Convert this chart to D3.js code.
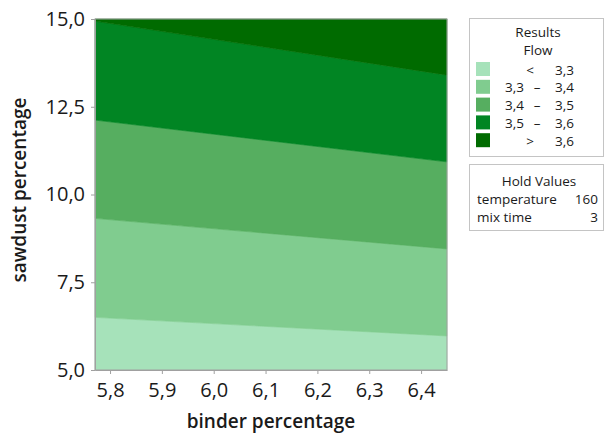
<!DOCTYPE html>
<html>
<head>
<meta charset="utf-8">
<script src="https://cdn.jsdelivr.net/npm/d3@7"></script>
<style>
  html, body { margin: 0; padding: 0; background: #fff; }
  svg { display: block; font-family: "Open Sans", "Noto Sans", sans-serif; }
</style>
</head>
<body>
<svg id="chart" width="605" height="434"></svg>
<script>
// Contour plot of Flow vs binder and sawdust percentage (temperature 160, mix time 3)

const binderRange = [5.771, 6.45];
const sawdustRange = [5, 15];

// Flow contour levels and the sawdust value where each contour meets the left / right edge
const flowLevels = [3.3, 3.4, 3.5, 3.6];
const sawdustAtBinderMin = [6.50, 9.32, 12.12, 14.94];
const sawdustAtBinderMax = [5.97, 8.45, 10.93, 13.40];

const bandLabels = [["", "<", "3,3"], ["3,3", "–", "3,4"], ["3,4", "–", "3,5"], ["3,5", "–", "3,6"], ["", ">", "3,6"]];
const bandColors = ["#a6e2ba", "#80cc8f", "#56ae60", "#018523", "#006b00"];

const xTicks = [5.8, 5.9, 6.0, 6.1, 6.2, 6.3, 6.4];
const yTicks = [5, 7.5, 10, 12.5, 15];

const holdNames = ["temperature", "mix time"];
const holdValues = [160, 3];

const svg = d3.select("#chart");
const plotLeft = 95, plotRight = 447, plotTop = 19, plotBottom = 370;

const x = d3.scaleLinear().domain(binderRange).range([plotLeft, plotRight]);
const y = d3.scaleLinear().domain(sawdustRange).range([plotBottom, plotTop]);

const loc = d3.formatLocale({ decimal: ",", thousands: ".", grouping: [3], currency: ["", ""] });
const fmt = loc.format(".1f");

// Band boundaries: bottom edge, each contour line, top edge
const edgesL = [sawdustRange[0], ...sawdustAtBinderMin, sawdustRange[1]];
const edgesR = [sawdustRange[0], ...sawdustAtBinderMax, sawdustRange[1]];

const bands = bandColors.map((c, i) => ({
  color: c,
  pts: [
    [binderRange[0], edgesL[i]],
    [binderRange[1], edgesR[i]],
    [binderRange[1], edgesR[i + 1]],
    [binderRange[0], edgesL[i + 1]]
  ]
}));

const poly = d3.line().x(d => x(d[0])).y(d => y(d[1]));

svg.append("g").selectAll("path").data(bands).join("path")
  .attr("d", d => poly(d.pts) + "Z")
  .attr("fill", d => d.color)
  .attr("stroke", d => d.color)
  .attr("stroke-width", 0.6);

// frame
svg.append("rect")
  .attr("x", plotLeft).attr("y", plotTop)
  .attr("width", plotRight - plotLeft).attr("height", plotBottom - plotTop)
  .attr("fill", "none").attr("stroke", "#a0a0a0").attr("stroke-width", 1);

// axes
const xAxis = svg.append("g").attr("transform", `translate(0,${plotBottom})`)
  .call(d3.axisBottom(x).tickValues(xTicks).tickFormat(fmt).tickSize(4).tickSizeOuter(0));
const yAxis = svg.append("g").attr("transform", `translate(${plotLeft},0)`)
  .call(d3.axisLeft(y).tickValues(yTicks).tickFormat(fmt).tickSize(4).tickSizeOuter(0));

[xAxis, yAxis].forEach(a => {
  a.select(".domain").attr("stroke", "#a0a0a0");
  a.selectAll(".tick line").attr("stroke", "#a0a0a0");
  a.selectAll(".tick text").attr("fill", "#1a1a1a").style("font-size", "20px")
    .style("font-family", "'Open Sans', sans-serif");
});
xAxis.selectAll(".tick text").attr("dy", "1.0em");
yAxis.selectAll(".tick text").attr("x", -10);

// axis titles
svg.append("text")
  .attr("x", 271).attr("y", 428)
  .attr("text-anchor", "middle")
  .attr("fill", "#1a1a1a")
  .style("font-size", "19px").style("font-weight", 600)
  .text("binder percentage");

svg.append("text")
  .attr("transform", "translate(26,190) rotate(-90)")
  .attr("text-anchor", "middle")
  .attr("fill", "#1a1a1a")
  .style("font-size", "19px").style("font-weight", 600)
  .text("sawdust percentage");

// legend: Results / Flow
const lg = svg.append("g").style("font-size", "13.5px").attr("fill", "#1a1a1a");
lg.append("rect").attr("x", 469.5).attr("y", 18.5).attr("width", 134).attr("height", 138)
  .attr("fill", "#fff").attr("stroke", "#c4c4c4");
lg.append("text").attr("x", 538).attr("y", 37).attr("text-anchor", "middle").text("Results");
lg.append("text").attr("x", 538).attr("y", 55).attr("text-anchor", "middle").text("Flow");

const rows = lg.selectAll("g.row").data(bandColors.map((c, i) => ({ c, lab: bandLabels[i] })))
  .join("g").attr("class", "row")
  .attr("transform", (d, i) => `translate(0,${62 + i * 17.8})`);
rows.append("rect").attr("x", 476).attr("y", 0).attr("width", 14).attr("height", 14).attr("fill", d => d.c);
rows.append("text").attr("x", 524).attr("y", 12.5).attr("text-anchor", "end").text(d => d.lab[0]);
rows.append("text").attr("x", d => d.lab[0] ? 537 : 530).attr("y", 12.5).attr("text-anchor", "middle").text(d => d.lab[1]);
rows.append("text").attr("x", 574).attr("y", 12.5).attr("text-anchor", "end").text(d => d.lab[2]);

// legend: Hold Values
lg.append("rect").attr("x", 469.5).attr("y", 164.5).attr("width", 134).attr("height", 66)
  .attr("fill", "#fff").attr("stroke", "#c4c4c4");
lg.append("text").attr("x", 539).attr("y", 186).attr("text-anchor", "middle").text("Hold Values");
holdNames.forEach((n, i) => {
  lg.append("text").attr("x", 477).attr("y", 204 + i * 17.5).text(n);
  lg.append("text").attr("x", 598).attr("y", 204 + i * 17.5).attr("text-anchor", "end").text(holdValues[i]);
});
</script>
</body>
</html>
